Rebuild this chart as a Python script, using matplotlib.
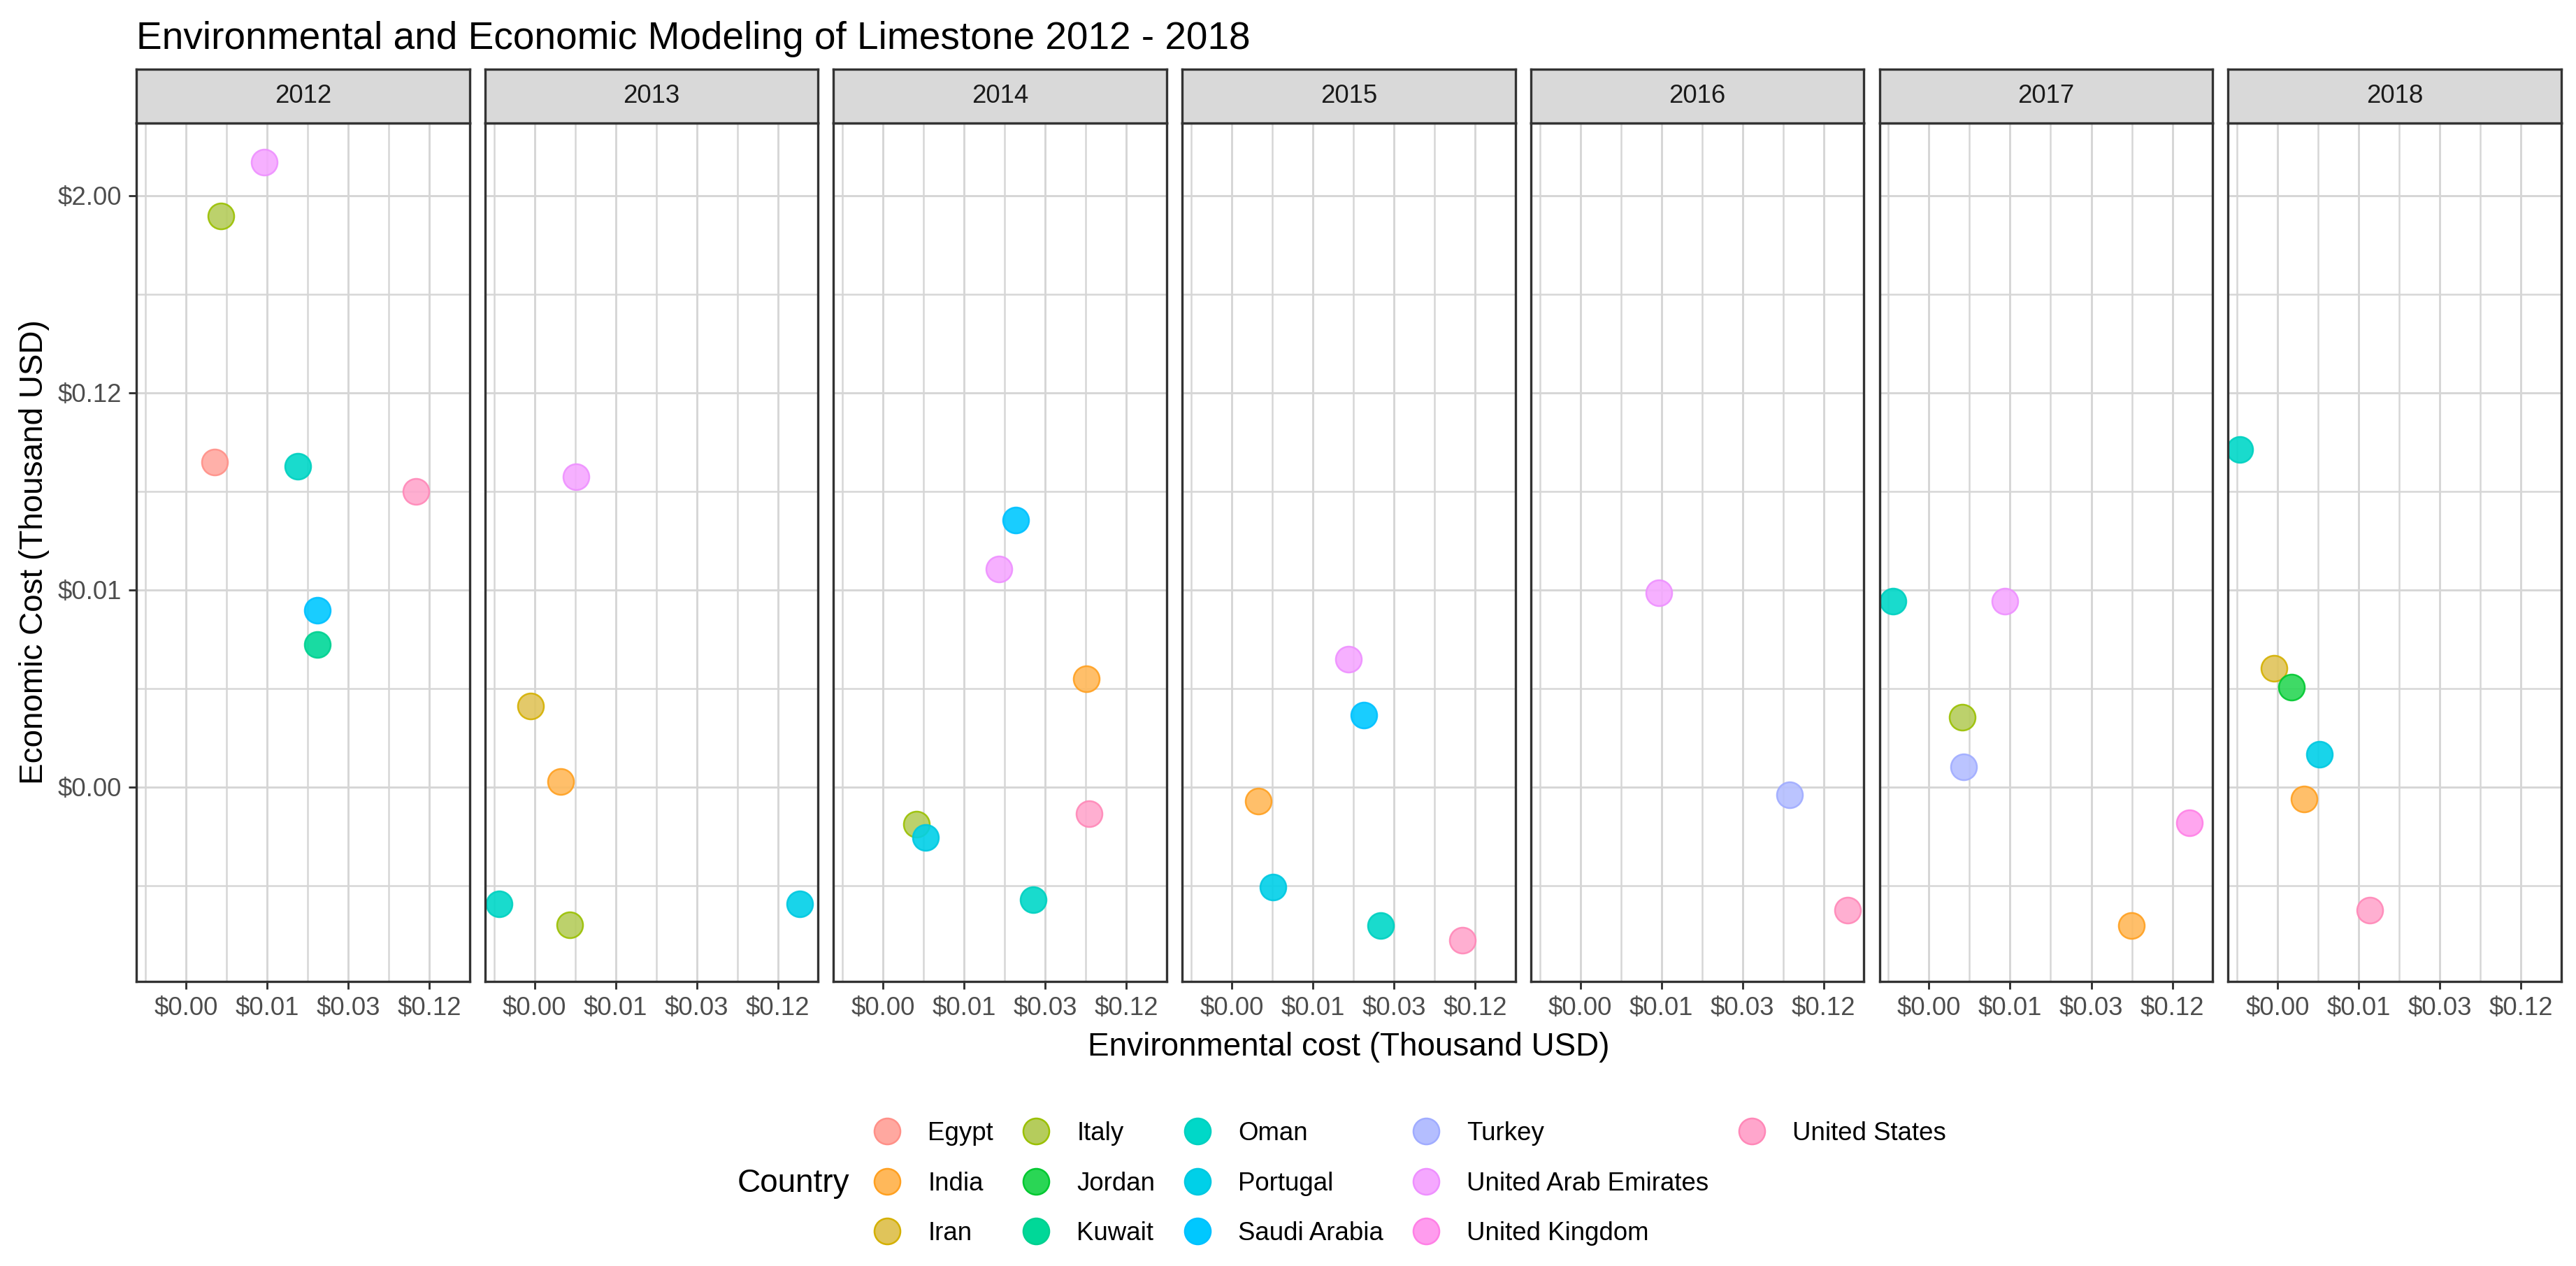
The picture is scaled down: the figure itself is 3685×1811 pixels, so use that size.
import numpy as np
import pandas as pd
import matplotlib.pyplot as plt
import matplotlib.ticker as ticker
from matplotlib.lines import Line2D

plt.rcParams['font.family'] = ['Liberation Sans', 'DejaVu Sans']

countries = ["Egypt", "India", "Iran", "Italy", "Jordan", "Kuwait", "Oman", "Portugal",
             "Saudi Arabia", "Turkey", "United Arab Emirates", "United Kingdom", "United States"]
face_colors = ["#FFA8A0", "#FFB85A", "#E0C45A", "#B5CC5C", "#2AD655", "#00D898", "#00D8C8",
               "#00D0E8", "#00C8FF", "#B4BEFF", "#F5A8FF", "#FF9CEE", "#FFA6CC"]
edge_colors = ["#FF9088", "#FFA020", "#D4B000", "#9AC000", "#00C830", "#00D090", "#00D0C0",
               "#00C8E0", "#00C0FF", "#A0ACFF", "#EE90FF", "#FF80E6", "#FF88B8"]

years = [2012, 2013, 2014, 2015, 2016, 2017, 2018]

# one entry per point (values in thousand USD)
point_year = [2012] * 7 + [2013] * 6 + [2014] * 7 + [2015] * 6 + [2016] * 3 + [2017] * 6 + [2018] * 6
point_country = [
    "Egypt", "Italy", "Kuwait", "Oman", "Saudi Arabia", "United Arab Emirates", "United States",
    "India", "Iran", "Italy", "Oman", "Portugal", "United Arab Emirates",
    "India", "Italy", "Oman", "Portugal", "Saudi Arabia", "United Arab Emirates", "United States",
    "India", "Oman", "Portugal", "Saudi Arabia", "United Arab Emirates", "United States",
    "Turkey", "United Arab Emirates", "United States",
    "India", "Italy", "Oman", "Turkey", "United Arab Emirates", "United Kingdom",
    "India", "Iran", "Jordan", "Oman", "Portugal", "United States",
]
env_cost = [
    0.00318, 0.00355, 0.01858, 0.01325, 0.01858, 0.007448, 0.1000,
    0.003066, 0.001835, 0.003551, 0.001061, 0.1809, 0.003958,
    0.06315, 0.003468, 0.02535, 0.00403, 0.01874, 0.014055, 0.06579,
    0.003071, 0.0249, 0.003963, 0.01856, 0.014388, 0.10035,
    0.06959, 0.007422, 0.1873,
    0.0622, 0.003434, 0.001057, 0.00355, 0.007119, 0.1679,
    0.003074, 0.00184, 0.002469, 0.001025, 0.003983, 0.009486,
]
econ_cost = [
    0.0472, 1.506, 0.003633, 0.04441, 0.005883, 3.198, 0.03112,
    0.0005255, 0.001518, 0.00007012, 0.00009433, 0.00009433, 0.0384,
    0.002236, 0.00029, 0.0001004, 0.0002403, 0.02079, 0.010424, 0.0003356,
    0.0004013, 0.00006987, 0.00012, 0.0013415, 0.002936, 0.0000566,
    0.0004379, 0.007495, 0.00008608,
    0.00006963, 0.001302, 0.006638, 0.0006492, 0.006638, 0.000296,
    0.000412, 0.002593, 0.001982, 0.05649, 0.0007774, 0.00008632,
]

df = pd.DataFrame({"year": point_year, "country": point_country,
                   "env": env_cost, "econ": econ_cost})

W, H = 3685, 1811
fig = plt.figure(figsize=(W / 300, H / 300), dpi=300)

panel_left0 = 195
panel_step = 498.7
panel_w = 476.6
panel_top = 176
panel_bot = 1404
strip_top = 99

grid_col = "#D6D6D6"
border_col = "#333333"
dollar = ticker.FuncFormatter(lambda v, p: r"\$%.2f" % v)

for i, yr in enumerate(years):
    left = (panel_left0 + i * panel_step) / W
    ax = fig.add_axes([left, 1 - panel_bot / H, panel_w / W, (panel_bot - panel_top) / H])
    ax.set_xscale("log", base=2)
    ax.set_yscale("log", base=2)
    ax.set_xlim(2 ** -10.224, 2 ** -2.007)
    ax.set_ylim(2 ** -14.946, 2 ** 2.473)

    ax.xaxis.set_major_locator(ticker.FixedLocator([2 ** -9, 2 ** -7, 2 ** -5, 2 ** -3]))
    ax.xaxis.set_minor_locator(ticker.FixedLocator([2 ** -10, 2 ** -8, 2 ** -6, 2 ** -4, 2 ** -2]))
    ax.yaxis.set_major_locator(ticker.FixedLocator([2 ** -11, 2 ** -7, 2 ** -3, 2 ** 1]))
    ax.yaxis.set_minor_locator(ticker.FixedLocator([2 ** -13, 2 ** -9, 2 ** -5, 2 ** -1]))
    ax.xaxis.set_major_formatter(dollar)
    ax.yaxis.set_major_formatter(dollar)
    ax.xaxis.set_minor_formatter(ticker.NullFormatter())
    ax.yaxis.set_minor_formatter(ticker.NullFormatter())

    ax.grid(which="major", color=grid_col, lw=0.7)
    ax.grid(which="minor", color=grid_col, lw=0.6)
    ax.set_axisbelow(True)
    ax.tick_params(which="major", length=2.75, width=0.7, color=border_col,
                   labelsize=8.8, labelcolor="#4D4D4D", pad=2.2)
    ax.tick_params(which="minor", length=0)
    if i > 0:
        ax.tick_params(axis="y", which="both", left=False, labelleft=False)
    for sp in ax.spines.values():
        sp.set_color(border_col)
        sp.set_linewidth(0.8)
        sp.set_zorder(5)

    sub = df[df["year"] == yr]
    for _, row in sub.iterrows():
        k = countries.index(row["country"])
        ax.scatter(row["env"], row["econ"], s=79, c=face_colors[k], edgecolors=edge_colors[k],
                   linewidths=0.6, alpha=0.9, zorder=3)

    # facet strip
    sax = fig.add_axes([left, 1 - panel_top / H, panel_w / W, (panel_top - strip_top) / H])
    sax.set_facecolor("#D9D9D9")
    sax.set_xticks([])
    sax.set_yticks([])
    for sp in sax.spines.values():
        sp.set_color(border_col)
        sp.set_linewidth(0.8)
    sax.text(0.5, 0.5, str(yr), transform=sax.transAxes, ha="center", va="center",
             fontsize=8.8, color="#1A1A1A")

fig.text(195 / W, 1 - 70 / H, "Environmental and Economic Modeling of Limestone 2012 - 2018",
         fontsize=13.2, ha="left", va="baseline", color="black")
fig.text(1929 / W, 1 - 1498 / H, "Environmental cost (Thousand USD)",
         fontsize=11, ha="center", va="center")
fig.text(49 / W, 1 - 790 / H, "Economic Cost (Thousand USD)",
         fontsize=11, ha="center", va="center", rotation=90)

# legend
handles = []
labels = []
for k, name in enumerate(countries):
    handles.append(Line2D([], [], linestyle="", marker="o", markersize=8.9,
                          markerfacecolor=face_colors[k], markeredgecolor=edge_colors[k],
                          markeredgewidth=0.6))
    labels.append(name)
for _ in range(2):
    handles.append(Line2D([], [], linestyle="", marker=None))
    labels.append("")

fig.legend(handles, labels, ncol=5, loc="center left",
           bbox_to_anchor=(1240 / W, 1 - 1693 / H), bbox_transform=fig.transFigure,
           frameon=False, fontsize=8.8, borderpad=0, borderaxespad=0,
           handlelength=1.6, handletextpad=0.78, columnspacing=0.87, labelspacing=1.0)
fig.text(1055 / W, 1 - 1693 / H, "Country", fontsize=11, ha="left", va="center")

fig.savefig("out.png", dpi=300)
